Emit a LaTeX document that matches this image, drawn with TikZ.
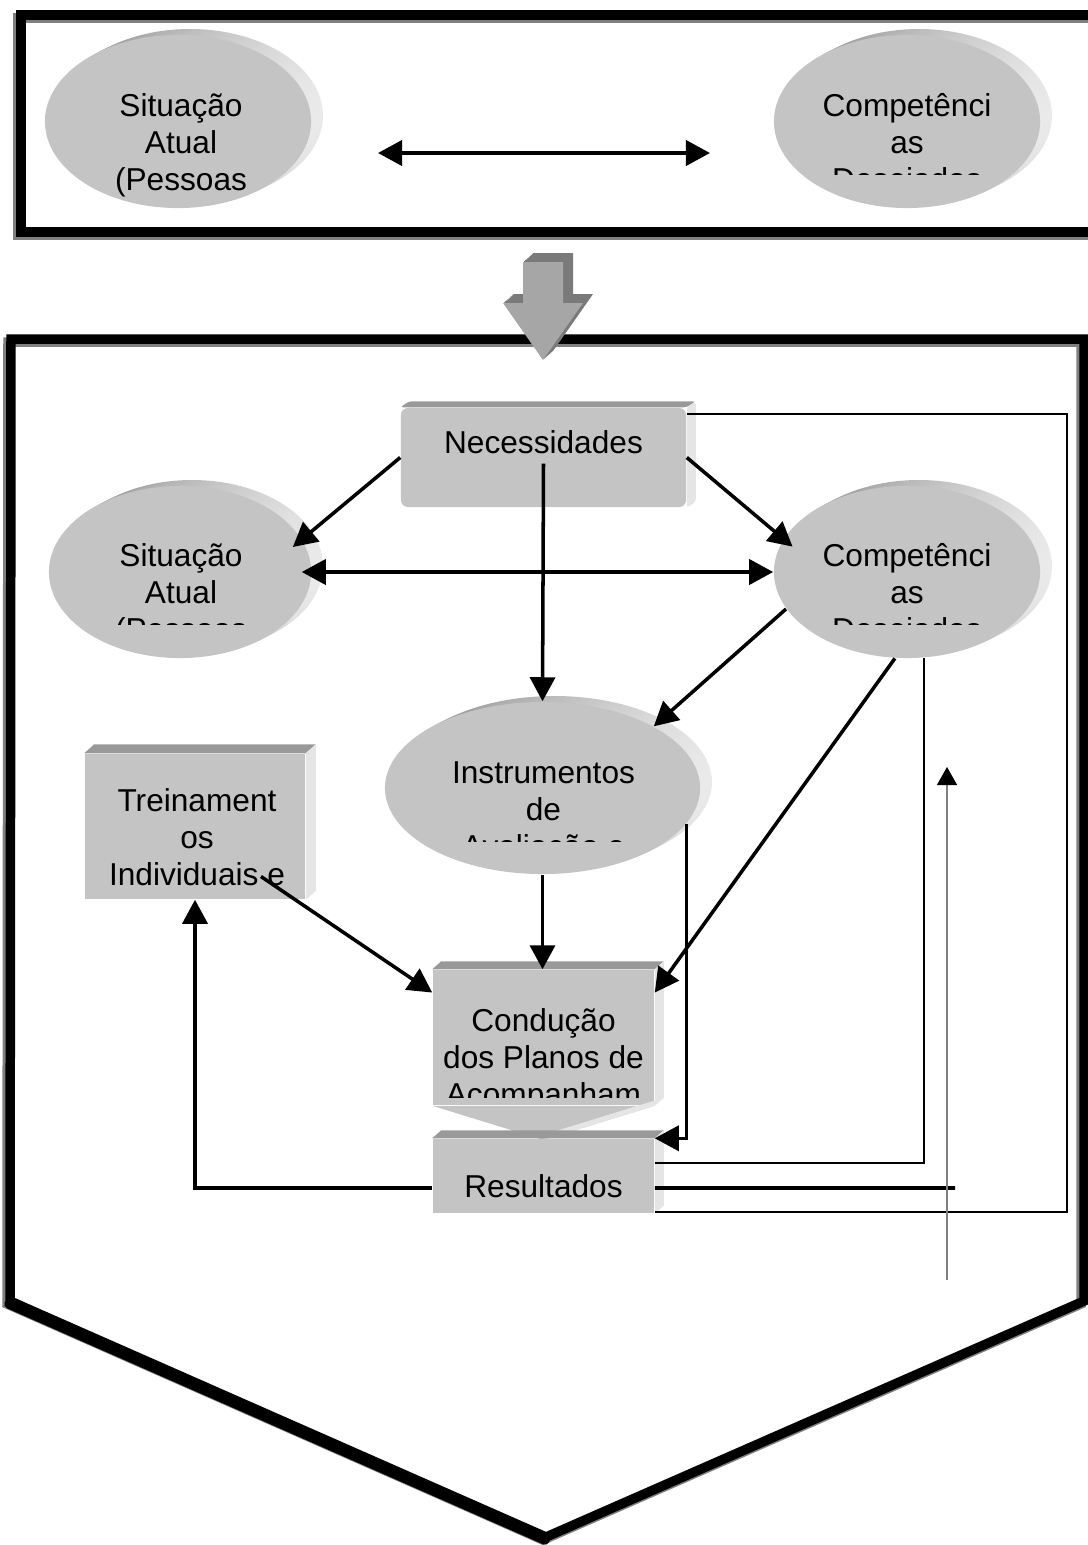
\documentclass[tikz,border=0pt]{standalone}
\usepackage{fontspec}
\setmainfont{Liberation Sans}
\usetikzlibrary{arrows.meta,shapes.geometric}

\begin{document}
\begin{tikzpicture}[x=0.01cm, y=-0.01cm, font=\fontsize{9pt}{10.5pt}\selectfont,
  moldura/.style={line width=2.7pt, line join=miter},
  elip/.style={ellipse, fill=black!23, inner sep=0pt},
  borda/.style={left color=black!45, right color=black!8},
  caixa/.style={rectangle, fill=black!23, inner sep=0pt},
  topo/.style={fill=black!40},
  lado/.style={fill=black!10},
  txt/.style={anchor=north, align=center, inner sep=0pt, execute at begin node={\rule{0pt}{8.5pt}}},
  seta/.style={line width=1pt, -{Triangle[length=2.4mm, width=2.5mm]}},
  dupla/.style={line width=1.1pt, {Triangle[length=2.4mm, width=2.5mm]}-{Triangle[length=2.4mm, width=2.5mm]}},
  grossa/.style={line width=1.1pt},
  fina/.style={line width=0.5pt}]
  \useasboundingbox (0,0) rectangle (1088,1545);

  % molduras
  \draw[moldura, black!50] (18,18) rectangle (1097,235);
  \draw[moldura] (21,15) rectangle (1100,232);
  \draw[moldura, black!50] (8,342) -- (1081,342) -- (1081,1304) -- (543,1540) -- (7,1304) -- cycle;
  \draw[moldura] (11,339) -- (1084,339) -- (1084,1301) -- (546,1537) -- (10,1301) -- cycle;
  \draw[moldura, line cap=round] (9,1304) -- (545,1540);

  % seta grande
  \foreach \s in {1,...,10}
    \fill[black!52, shift={(\s,-0.9*\s)}] (523,262) -- (563,262) -- (563,303) -- (583,303) -- (543,360) -- (503,303) -- (523,303) -- cycle;
  \fill[black!35] (523,262) -- (563,262) -- (563,303) -- (583,303) -- (543,360) -- (503,303) -- (523,303) -- cycle;

  % em cima
  \foreach \s in {12,8,4} \shade[borda] (178+\s,121.5-\s/2) ellipse [x radius=133, y radius=86.5];
  \node[elip, minimum width=2.66cm, minimum height=1.73cm] (sitA) at (178,121.5) {};
  \begin{scope}
    \clip (40,70) rectangle (330,210);
    \node[txt] (tsitA) at (181,93) {Situação\\Atual\\(Pessoas};
  \end{scope}
  \foreach \s in {12,8,4} \shade[borda] (907+\s,121.5-\s/2) ellipse [x radius=133, y radius=86.5];
  \node[elip, minimum width=2.66cm, minimum height=1.73cm] (compA) at (907,121.5) {};
  \begin{scope}
    \clip (770,70) rectangle (1060,174);
    \node[txt] (tcompA) at (907,93) {Competênci\\as\\Desejadas};
  \end{scope}
  \coordinate (ta) at (378,153);
  \coordinate (tb) at (710,153);
  \draw[dupla] (ta) -- (tb);

  % Necessidades
  \node[caixa, rounded corners=0.07cm, minimum width=2.85cm, minimum height=0.99cm] (nec) at (543.5,457.5) {};
  \fill[topo, rounded corners=0.03cm] (nec.north west) -- ([shift={(9,-6)}]nec.north west) -- ([shift={(9,-6)}]nec.north east) -- (nec.north east) -- cycle;
  \fill[lado, rounded corners=0.03cm] (nec.north east) -- ([shift={(9,-6)}]nec.north east) -- ([shift={(9,-6)}]nec.south east) -- (nec.south east) -- cycle;
  \node[anchor=base] (tnec) at (543.5,453) {Necessidades};

  % Situação atual / competências
  \foreach \s in {12,8,4} \shade[borda] (180+\s,572-\s/2) ellipse [x radius=131, y radius=86];
  \node[elip, minimum width=2.62cm, minimum height=1.72cm] (sitB) at (180,572) {};
  \begin{scope}
    \clip (40,520) rectangle (330,624);
    \node[txt] (tsitB) at (181,543) {Situação\\Atual\\(Pessoas};
  \end{scope}
  \foreach \s in {12,8,4} \shade[borda] (907+\s,572-\s/2) ellipse [x radius=133, y radius=86];
  \node[elip, minimum width=2.66cm, minimum height=1.72cm] (compB) at (907,572) {};
  \begin{scope}
    \clip (770,520) rectangle (1060,624);
    \node[txt] (tcompB) at (907,543) {Competênci\\as\\Desejadas};
  \end{scope}

  % Instrumentos
  \foreach \s in {12,8,4} \shade[borda] (542.5+\s,788-\s/2) ellipse [x radius=157.5, y radius=86];
  \node[elip, minimum width=3.15cm, minimum height=1.72cm] (inst) at (542.5,788) {};
  \begin{scope}
    \clip (385,740) rectangle (700,841);
    \node[txt] (tinst) at (543.5,761) {Instrumentos\\de\\Avaliação e};
  \end{scope}

  % Treinamentos
  \node[caixa, minimum width=2.2cm, minimum height=1.45cm] (trein) at (195,826.5) {};
  \fill[topo] (trein.north west) -- ([shift={(10,-9)}]trein.north west) -- ([shift={(10,-9)}]trein.north east) -- (trein.north east) -- cycle;
  \fill[lado] (trein.north east) -- ([shift={(10,-9)}]trein.north east) -- ([shift={(10,-9)}]trein.south east) -- (trein.south east) -- cycle;
  \node[txt] (ttrein) at (197,788) {Treinament\\os\\Individuais e};

  % Condução
  \node[caixa, minimum width=2.21cm, minimum height=1.35cm] (cond) at (543.5,1037.5) {};
  \fill[black!23] (cond.south west) -- (543.5,1140) -- (cond.south east) -- cycle;
  \fill[topo] (cond.north west) -- ([shift={(9,-8)}]cond.north west) -- ([shift={(9,-8)}]cond.north east) -- (cond.north east) -- cycle;
  \fill[lado] (cond.north east) -- ([shift={(9,-8)}]cond.north east) -- ([shift={(9,-8)}]cond.south east) -- (cond.south east) -- cycle;
  \fill[lado] (cond.south east) -- ([shift={(9,-8)}]cond.south east) -- (552.5,1132) -- (543.5,1140) -- cycle;
  \begin{scope}
    \clip (433,965) rectangle (654,1097);
    \node[txt] (tcond) at (543.5,1008) {Condução\\dos Planos de\\Acompanham};
  \end{scope}

  % Resultados
  \node[caixa, minimum width=2.21cm, minimum height=0.74cm] (res) at (543.5,1176) {};
  \fill[topo] (res.north west) -- ([shift={(9,-8)}]res.north west) -- ([shift={(9,-8)}]res.north east) -- (res.north east) -- cycle;
  \fill[lado] (res.north east) -- ([shift={(9,-8)}]res.north east) -- ([shift={(9,-8)}]res.south east) -- (res.south east) -- cycle;
  \node[anchor=base] (tres) at (543.5,1197) {Resultados};

  % ligações
  \draw[seta, shorten >=-1.2mm] (nec.west) -- (sitB.15);
  \draw[seta, shorten >=-1.2mm] (nec.east) -- (compB.165);
  \draw[dupla, shorten <=-1mm] (sitB.east) -- (compB.west);
  \draw[seta] ([yshift=-0.06cm]nec.center) -- (inst.north);
  \draw[seta] (compB.197) -- (inst.29);
  \draw[seta] (inst.south) -- (inst.south |- cond.north);
  \draw[seta] ([shift={(66,50)}]trein.center) -- (cond.158);
  \draw[seta] (compB.262) -- (cond.22);
  \draw[seta] (inst.-14) |- (res.north east);
  \draw[fina] ([yshift=0.13cm]res.east) -| (compB.-79);
  \coordinate (fimA) at (955,1188);
  \draw[grossa] ([yshift=-0.12cm]res.east) -- (fimA);
  \draw[seta] ([yshift=-0.12cm]res.west) -| (trein.south);
  \draw[fina] ([yshift=0.02cm]res.south east) -| ([shift={(380,7)}]nec.north east) -- ([shift={(0,7)}]nec.north east);
  \coordinate (cinzaA) at (947,1280);
  \coordinate (cinzaB) at (947,767);
  \draw[line width=0.4pt, black!50, -{Triangle[length=1.8mm, width=2mm, color=black]}] (cinzaA) -- (cinzaB);
\end{tikzpicture}
\end{document}
